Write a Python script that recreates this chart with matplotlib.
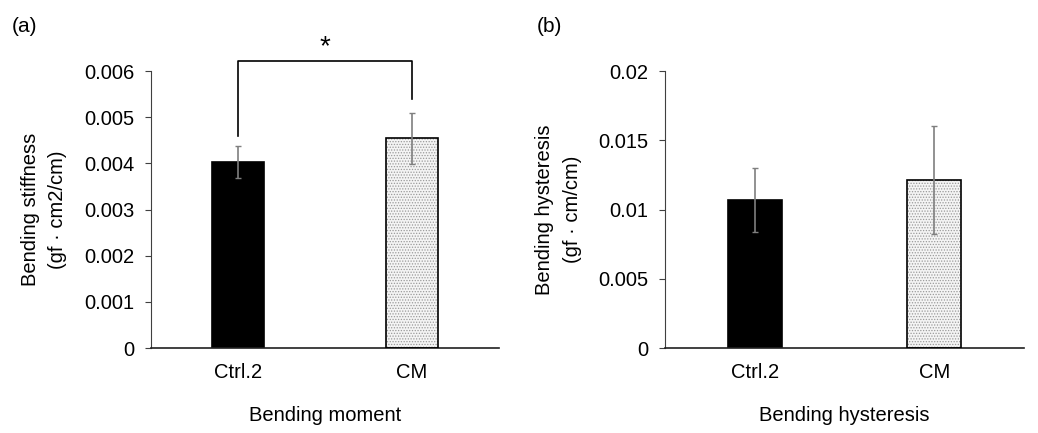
import matplotlib.pyplot as plt

plt.rcParams["font.family"] = ["Liberation Sans", "DejaVu Sans"]
plt.rcParams["hatch.linewidth"] = 0.6

# -------------------------
# Data
# -------------------------
groups = ["Ctrl.2", "CM"]

stiffness = [0.00403, 0.00454]
stiffness_err = [0.00035, 0.00055]

hysteresis = [0.0107, 0.0121]
hysteresis_err = [0.0023, 0.0039]

# significance bracket for panel (a): heights of left leg, right leg, top, star
bracket = [0.00459, 0.00539, 0.00622, 0.00652]

fig = plt.figure(figsize=(10.38, 4.33), dpi=100)
ax1 = fig.add_axes([0.1455, 0.1963, 0.3353, 0.6397])
ax2 = fig.add_axes([0.6407, 0.1963, 0.3459, 0.6397])

FS = 14.5


def draw_panel(ax, values, errs, ymax, step, ylabel, xlabel):
    x = range(len(groups))
    # plain black bar
    ax.bar(0, values[0], width=0.3, color="black", edgecolor="black", linewidth=1.2, zorder=2)
    # dotted bar: hatch layer then outline
    ax.bar(1, values[1], width=0.3, color="#f4f4f4", edgecolor="#9a9a9a", hatch="......",
           linewidth=0, zorder=2)
    ax.bar(1, values[1], width=0.3, fill=False, edgecolor="black", linewidth=1.2, zorder=3)
    ax.errorbar(list(x), values, yerr=errs, fmt="none", ecolor="#7f7f7f",
                elinewidth=1.2, capsize=2.5, capthick=1.0, zorder=4)

    ax.set_xlim(-0.5, 1.5)
    ax.set_ylim(0, ymax)
    ticks = [round(i * step, 4) for i in range(int(round(ymax / step)) + 1)]
    ax.set_yticks(ticks)
    ax.set_yticklabels(["0" if t == 0 else f"{t:g}" for t in ticks])
    ax.set_xticks(list(x))
    ax.set_xticklabels(groups)

    ax.spines["top"].set_visible(False)
    ax.spines["right"].set_visible(False)
    ax.spines["left"].set_color("#404040")
    ax.spines["bottom"].set_color("#202020")
    ax.spines["bottom"].set_linewidth(1.2)
    ax.tick_params(axis="y", direction="out", length=4, labelsize=FS, pad=8, color="#404040")
    ax.tick_params(axis="x", length=0, labelsize=FS, pad=11)

    ax.set_ylabel(ylabel, fontsize=FS, labelpad=12, linespacing=1.55)
    ax.set_xlabel(xlabel, fontsize=FS, labelpad=17)


draw_panel(ax1, stiffness, stiffness_err, 0.006, 0.001,
           "Bending stiffness\n(gf · cm2/cm)", "Bending moment")
draw_panel(ax2, hysteresis, hysteresis_err, 0.02, 0.005,
           "Bending hysteresis\n(gf · cm/cm)", "Bending hysteresis")

# significance bracket
ax1.plot([0, 0, 1, 1], [bracket[0], bracket[2], bracket[2], bracket[1]],
         color="black", linewidth=1.2, clip_on=False)
ax1.text(0.5, bracket[3], "*", ha="center", va="center", fontsize=20)

fig.text(0.011, 0.925, "(a)", fontsize=15)
fig.text(0.517, 0.925, "(b)", fontsize=15)

fig.savefig("out.png", dpi=100)
